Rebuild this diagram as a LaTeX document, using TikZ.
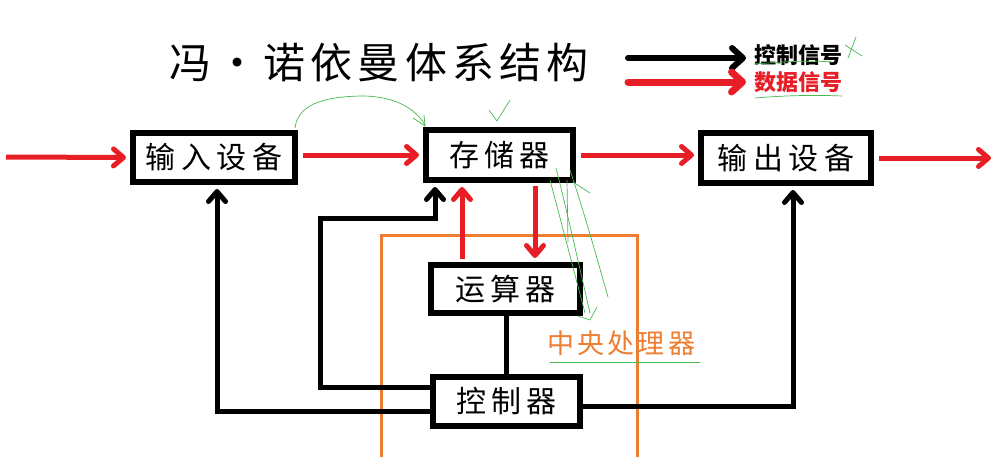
\documentclass[tikz,border=0pt]{standalone}
\usepackage{fontspec}
\setmainfont{Noto Sans CJK SC}
\usetikzlibrary{arrows.meta,calc}
\definecolor{vnred}{RGB}{232,30,38}
\definecolor{vnorange}{RGB}{237,125,49}
\definecolor{vngreen}{RGB}{70,185,80}
\newcommand{\chgap}{\hspace{0.18em}}
\newcommand{\tgap}{\hspace{0.12em}}
\begin{document}
\begin{tikzpicture}[x=1pt,y=-1pt,
  box/.style={draw=black, fill=white, line width=6pt, inner sep=0pt, font=\fontsize{30}{30}\selectfont},
  bline/.style={draw=black, line width=5pt, line cap=round},
  rline/.style={draw=vnred, line width=5pt},
  tip/.style={-{Straight Barb[length=10pt,width=17pt,round]}, shorten >=4pt},
  bigtip/.style={-{Straight Barb[length=11pt,width=20pt,round]}},
  hand/.style={draw=vngreen, line width=0.7pt, line cap=round, line join=round}
]
\useasboundingbox (0,0) rectangle (996,456);

% CPU frame
\draw[vnorange, line width=3pt] (381,235) rectangle (637,462);
\node[anchor=west, inner sep=0pt, text=vnorange, font=\fontsize{27}{27}\selectfont] (cpu) at (547,343) {中\tgap 央\tgap 处\tgap 理\tgap 器};

% title
\node[inner sep=0pt, font=\fontsize{42}{42}\selectfont] (title) at (379,63) {冯\tgap\makebox[1em]{•}\tgap 诺\tgap 依\tgap 曼\tgap 体\tgap 系\tgap 结\tgap 构};

% legend
\node[anchor=west, inner sep=0pt, font=\fontsize{22}{22}\selectfont\bfseries] (lgc) at (754,55) {控制信号};
\node[anchor=west, inner sep=0pt, text=vnred, font=\fontsize{22}{22}\selectfont\bfseries] (lgd) at (754,82) {数据信号};
\coordinate (lga) at (628,58);
\coordinate (lgb) at (628,82);
\draw[black, line width=6pt, line cap=round, bigtip, shorten >=8pt] (lga) -- (lga -| lgc.west);
\draw[vnred, line width=7pt, line cap=round, bigtip, shorten >=8pt] (lgb) -- (lgb -| lgd.west);

% boxes
\node[box, minimum width=162pt, minimum height=49pt] (inbox) at (214,157.5) {输\chgap 入\chgap 设\chgap 备};
\node[box, minimum width=147pt, minimum height=50pt] (mem) at (499.5,155) {存\chgap 储\chgap 器};
\node[box, minimum width=170pt, minimum height=50pt] (out) at (786,158) {输\chgap 出\chgap 设\chgap 备};
\node[box, minimum width=149pt, minimum height=48pt] (alu) at (505.5,289) {运\chgap 算\chgap 器};
\node[box, minimum width=147pt, minimum height=49pt] (ctl) at (506.5,401.5) {控\chgap 制\chgap 器};

% data signals
\coordinate (src) at (6,157);
\coordinate (snk) at (995,158);
\draw[rline, tip] (src) -- (inbox.west);
\draw[rline, tip, shorten <=5pt] (inbox.east |- mem) -- (mem.west);
\draw[rline, tip, shorten <=5pt] (mem.east) -- (mem.east -| out.west);
\draw[rline, tip, shorten <=5pt] (out.east) -- (snk);
\coordinate (r1) at (462,262);
\coordinate (r2) at (535,184);
\draw[rline, tip, shorten <=3pt] (r1 |- alu.north) -- (r1 |- mem.south);
\draw[rline, tip, shorten <=3pt] (r2 |- mem.south) -- (r2 |- alu.north);

% control signals
\draw[bline] (ctl.north) -- (ctl.north |- alu.south);
\coordinate (c1) at (320,387);
\coordinate (c2) at (320,218);
\coordinate (c3) at (435,218);
\draw[bline, tip] (ctl.west |- c1) -- (c1) -- (c2) -- (c3) -- (c3 |- mem.south);
\coordinate (d1) at (217,411);
\draw[bline, tip] (ctl.west |- d1) -- (d1) -- (d1 |- inbox.south);
\coordinate (e1) at (793,406);
\draw[bline, tip] (ctl.east |- e1) -- (e1) -- (e1 |- out.south);

% hand-drawn green marks
\draw[hand] (295,128) .. controls (298,102) and (330,96) .. (365,96) .. controls (395,97) and (415,108) .. (425,125);
\draw[hand] (413,118) -- (425,126) -- (424,115);
\draw[hand] (489,110) -- (497,121) -- (510,100);
\draw[hand] (556,168) .. controls (568,215) and (580,270) .. (590,313);
\draw[hand] (570,170) .. controls (585,215) and (598,262) .. (608,297);
\draw[hand] (550,180) .. controls (562,225) and (575,275) .. (585,313);
\draw[hand] (567,180) -- (568,242);
\draw[hand] (573,182) -- (590,193);
\draw[hand] (578,316) -- (590,320) -- (597,307);
\draw[hand] (754,64) .. controls (780,62) and (810,60) .. (832,62);
\draw[hand] (755,98) .. controls (790,95) and (820,95) .. (842,96);
\draw[hand] (845,45) -- (862,56);
\draw[hand] (856,37) -- (848,58);
\draw[hand] (550,362) -- (700,362);
\end{tikzpicture}
\end{document}
